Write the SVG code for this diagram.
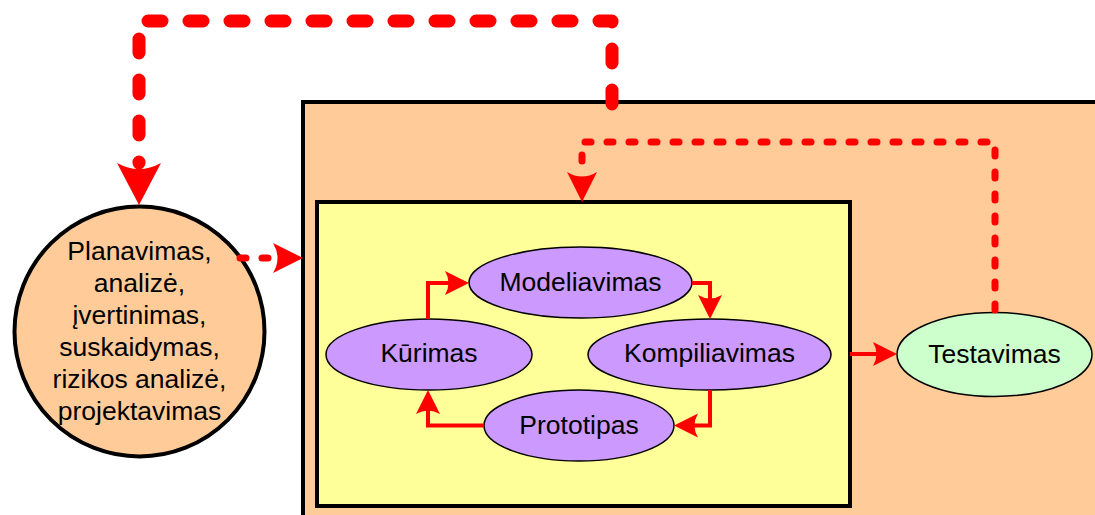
<svg xmlns="http://www.w3.org/2000/svg" width="1095" height="515" viewBox="0 0 1095 515">
  <style>
    .lbl { font-family: "Liberation Sans", Arial, sans-serif; font-size: 26.5px; fill: #000; text-anchor: middle; }
    .box { stroke: #000; stroke-width: 4; }
    .oval { stroke: #000; stroke-width: 1.5; }
    .solid { fill: none; stroke: #FF0000; stroke-width: 4; stroke-linejoin: miter; }
    .dash { fill: none; stroke: #FF0000; stroke-width: 7; stroke-linecap: round; stroke-linejoin: round; stroke-dasharray: 6 16; }
    .dashBig { fill: none; stroke: #FF0000; stroke-width: 13; stroke-linecap: round; stroke-linejoin: round; stroke-dasharray: 14 27; }
  </style>
  <defs>
    <marker id="headS" markerUnits="userSpaceOnUse" markerWidth="26" markerHeight="26" refX="4" refY="12" orient="auto" overflow="visible">
      <path d="M24,12 L0,0 Q7,12 0,24 Z" fill="#FF0000"/>
    </marker>
    <marker id="headM" markerUnits="userSpaceOnUse" markerWidth="32" markerHeight="32" refX="0" refY="15" orient="auto" overflow="visible">
      <path d="M30,15 L0,0 Q9,15 0,30 Z" fill="#FF0000"/>
    </marker>
    <marker id="headL" markerUnits="userSpaceOnUse" markerWidth="44" markerHeight="46" refX="0" refY="22" orient="auto" overflow="visible">
      <path d="M42,22 L0,0 Q12,22 0,44 Z" fill="#FF0000"/>
    </marker>
  </defs>

  <!-- outer development area -->
  <g id="outer-area">
    <rect class="box" x="303" y="102" width="800" height="420" fill="#FFCC99"/>
  </g>

  <!-- inner iteration area -->
  <g id="inner-area">
    <rect class="box" x="317" y="202" width="533" height="304" fill="#FFFF99"/>
  </g>

  <g id="planning">
    <circle class="box" cx="139.5" cy="331.5" r="125" fill="#FFCC99"/>
    <text class="lbl" x="139.5" y="260">Planavimas,</text>
    <text class="lbl" x="139.5" y="292">analizė,</text>
    <text class="lbl" x="139.5" y="324">įvertinimas,</text>
    <text class="lbl" x="139.5" y="356">suskaidymas,</text>
    <text class="lbl" x="139.5" y="388">rizikos analizė,</text>
    <text class="lbl" x="139.5" y="420">projektavimas</text>
  </g>

  <g id="modeliavimas">
    <ellipse class="oval" cx="580.5" cy="282.5" rx="111.5" ry="35.5" fill="#CC99FF"/>
    <text class="lbl" x="580.5" y="290.5">Modeliavimas</text>
  </g>

  <g id="kurimas">
    <ellipse class="oval" cx="429" cy="354.5" rx="103" ry="35.5" fill="#CC99FF"/>
    <text class="lbl" x="429" y="362">Kūrimas</text>
  </g>

  <g id="kompiliavimas">
    <ellipse class="oval" cx="709.5" cy="354.5" rx="121.5" ry="35.5" fill="#CC99FF"/>
    <text class="lbl" x="709.5" y="362">Kompiliavimas</text>
  </g>

  <g id="prototipas">
    <ellipse class="oval" cx="579" cy="425.5" rx="95" ry="35.5" fill="#CC99FF"/>
    <text class="lbl" x="579" y="433.5">Prototipas</text>
  </g>

  <g id="testavimas">
    <ellipse class="oval" cx="994.5" cy="354.5" rx="97.5" ry="42" fill="#CCFFCC"/>
    <text class="lbl" x="994.5" y="362.5">Testavimas</text>
  </g>

  <g id="connectors">
    <!-- inner cycle -->
    <path class="solid" d="M428,319 V283 H449" marker-end="url(#headS)"/>
    <path class="solid" d="M692,283 H710 V299" marker-end="url(#headS)"/>
    <path class="solid" d="M710,390 V425.5 H694" marker-end="url(#headS)"/>
    <path class="solid" d="M484,425.5 H428 V410" marker-end="url(#headS)"/>
    <!-- iteration area to testing -->
    <path class="solid" d="M850,354 H877" marker-end="url(#headS)"/>
    <!-- planning to development area -->
    <path class="dash" d="M240,258 H273" marker-end="url(#headM)"/>
    <!-- testing back into iteration area -->
    <path class="dash" d="M995,310 V142 H582 V172" marker-end="url(#headM)"/>
    <!-- development area back to planning -->
    <path class="dashBig" d="M612,104 V21 H139 V163" marker-end="url(#headL)"/>
  </g>
</svg>
